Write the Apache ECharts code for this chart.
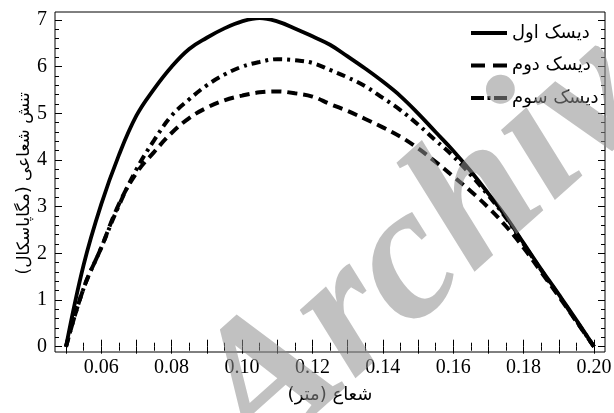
<!DOCTYPE html>
<html><head><meta charset="utf-8">
<script src="https://cdn.jsdelivr.net/npm/echarts@6/dist/echarts.min.js"></script>
<style>html,body{margin:0;padding:0;background:#fff}#c{width:614px;height:413px}</style>
</head><body><div id="c"></div>
<script>
// ---- data ----
const radius = [0.050,0.055,0.060,0.065,0.070,0.075,0.080,0.085,0.090,0.095,0.100,0.105,0.110,0.115,0.120,0.125,0.130,0.135,0.140,0.145,0.150,0.155,0.160,0.165,0.170,0.175,0.180,0.185,0.190,0.195,0.200];
const disk1 = [0,1.75,3.05,4.10,4.95,5.52,6.00,6.38,6.62,6.82,6.97,7.04,6.97,6.82,6.65,6.47,6.22,5.96,5.68,5.37,5.00,4.60,4.20,3.76,3.28,2.78,2.22,1.66,1.12,0.57,0];
const disk2 = [0,1.25,2.12,3.05,3.72,4.17,4.58,4.90,5.12,5.28,5.38,5.45,5.47,5.43,5.36,5.20,5.05,4.88,4.70,4.50,4.25,3.96,3.65,3.33,2.98,2.58,2.12,1.60,1.08,0.54,0];
const disk3 = [0,1.25,2.12,3.02,3.80,4.42,4.95,5.30,5.60,5.83,6.00,6.10,6.16,6.14,6.08,5.93,5.77,5.58,5.33,5.07,4.76,4.42,4.08,3.68,3.24,2.76,2.20,1.64,1.10,0.55,0];
const seriesNames = ['دیسک اول','دیسک دوم','دیسک سوم'];
const xTickLabels = ['0.06','0.08','0.10','0.12','0.14','0.16','0.18','0.20'];
const yTickLabels = ['0','1','2','3','4','5','6','7'];
const xAxisName = 'شعاع (متر)';
const yAxisName = 'تنش شعاعی (مگاپاسکال)';
const watermarkText = 'Archive';

// ---- chart ----
const RLM = '\u200F';
const serif = '"Liberation Serif", "Times New Roman", serif';
const arabicFont = '"DejaVu Sans", "Noto Sans", sans-serif';
function pickLabel(list, v) {
  for (const s of list) { if (Math.abs(parseFloat(s) - v) < 1e-9) return s; }
  return '';
}
const tickStyle = { show: true, inside: true, length: 7, lineStyle: { color: '#000', width: 1 } };
const legendIcons = [
  'path://M0,0H36V4H0Z',
  'path://M0,0H14V4H0Z M22,0H36V4H22Z',
  'path://M0,0H13V4H0Z M16.5,0H19.5V4H16.5Z M23,0H36V4H23Z'
];
const chart = echarts.init(document.getElementById('c'), null, { renderer: 'canvas' });
const mkData = arr => radius.map((x, i) => [x, arr[i]]);
chart.setOption({
  animation: false,
  backgroundColor: '#fff',
  grid: [
    { left: 66, right: 20, top: 20, bottom: 66.3, containLabel: false, outerBoundsMode: 'none' },
    { left: 55, right: 9, top: 12, bottom: 61, show: true, borderColor: '#000', borderWidth: 1, backgroundColor: 'transparent', containLabel: false, outerBoundsMode: 'none' }
  ],
  xAxis: [
    { gridIndex: 0, type: 'value', min: 0.05, max: 0.20, interval: 0.01, position: 'bottom', offset: 5.3,
      axisLine: { show: false }, axisTick: tickStyle,
      minorTick: { show: true, splitNumber: 2, length: 4, lineStyle: { color: '#000', width: 1 } },
      splitLine: { show: false }, minorSplitLine: { show: false },
      axisLabel: { formatter: v => pickLabel(xTickLabels, v), fontFamily: serif, fontSize: 20, color: '#000', margin: 6 },
      name: xAxisName + RLM, nameLocation: 'middle', nameGap: 34, nameMoveOverlap: false,
      nameTextStyle: { fontFamily: arabicFont, fontSize: 18, color: '#000' } },
    { gridIndex: 0, type: 'value', min: 0.05, max: 0.20, interval: 0.01, position: 'top', offset: 8,
      axisLine: { show: false }, axisTick: tickStyle,
      minorTick: { show: true, splitNumber: 2, length: 4, lineStyle: { color: '#000', width: 1 } },
      splitLine: { show: false }, axisLabel: { show: false } },
    { gridIndex: 1, type: 'value', min: 0, max: 1, show: false }
  ],
  yAxis: [
    { gridIndex: 0, type: 'value', min: 0, max: 7, interval: 1, position: 'left', offset: 11,
      axisLine: { show: false }, axisTick: tickStyle,
      minorTick: { show: true, splitNumber: 5, length: 4, lineStyle: { color: '#000', width: 1 } },
      splitLine: { show: false }, minorSplitLine: { show: false },
      axisLabel: { formatter: v => pickLabel(yTickLabels, v), fontFamily: serif, fontSize: 20, color: '#000', margin: 8 },
      name: yAxisName + RLM, nameLocation: 'middle', nameGap: 22, nameRotate: 90, nameMoveOverlap: false,
      nameTextStyle: { fontFamily: arabicFont, fontSize: 17, color: '#000' } },
    { gridIndex: 0, type: 'value', min: 0, max: 7, interval: 1, position: 'right', offset: 11,
      axisLine: { show: false }, axisTick: tickStyle,
      minorTick: { show: true, splitNumber: 5, length: 4, lineStyle: { color: '#000', width: 1 } },
      splitLine: { show: false }, axisLabel: { show: false } },
    { gridIndex: 1, type: 'value', min: 0, max: 1, show: false }
  ],
  legend: {
    orient: 'vertical', left: 466, top: 19, itemWidth: 36, itemHeight: 4, itemGap: 14.5, align: 'left',
    textStyle: { fontFamily: arabicFont, fontSize: 18, color: '#000' },
    itemStyle: { color: '#000', borderWidth: 0 },
    data: seriesNames.map((n, i) => ({ name: n, icon: legendIcons[i] }))
  },
  series: [
    { type: 'line', name: seriesNames[0], data: mkData(disk1), smooth: 0.4, symbol: 'none', showSymbol: false,
      lineStyle: { color: '#000', width: 3.8, type: 'solid' }, itemStyle: { color: '#000' } },
    { type: 'line', name: seriesNames[1], data: mkData(disk2), smooth: 0.4, symbol: 'none', showSymbol: false,
      lineStyle: { color: '#000', width: 4, type: [10, 6] }, itemStyle: { color: '#000' } },
    { type: 'line', name: seriesNames[2], data: mkData(disk3), smooth: 0.4, symbol: 'none', showSymbol: false,
      lineStyle: { color: '#000', width: 4, type: [9, 5, 3, 5] }, itemStyle: { color: '#000' } }
  ],
  graphic: [{
    type: 'text', x: 288, y: 501, rotation: 0.73, z: 100, silent: true,
    style: { text: watermarkText, font: 'italic bold 192px "Liberation Serif", "Times New Roman", serif', fill: '#8e8e8e', opacity: 0.55,
             textAlign: 'left', textVerticalAlign: 'bottom', verticalAlign: 'bottom' }
  }]
});
</script></body></html>
